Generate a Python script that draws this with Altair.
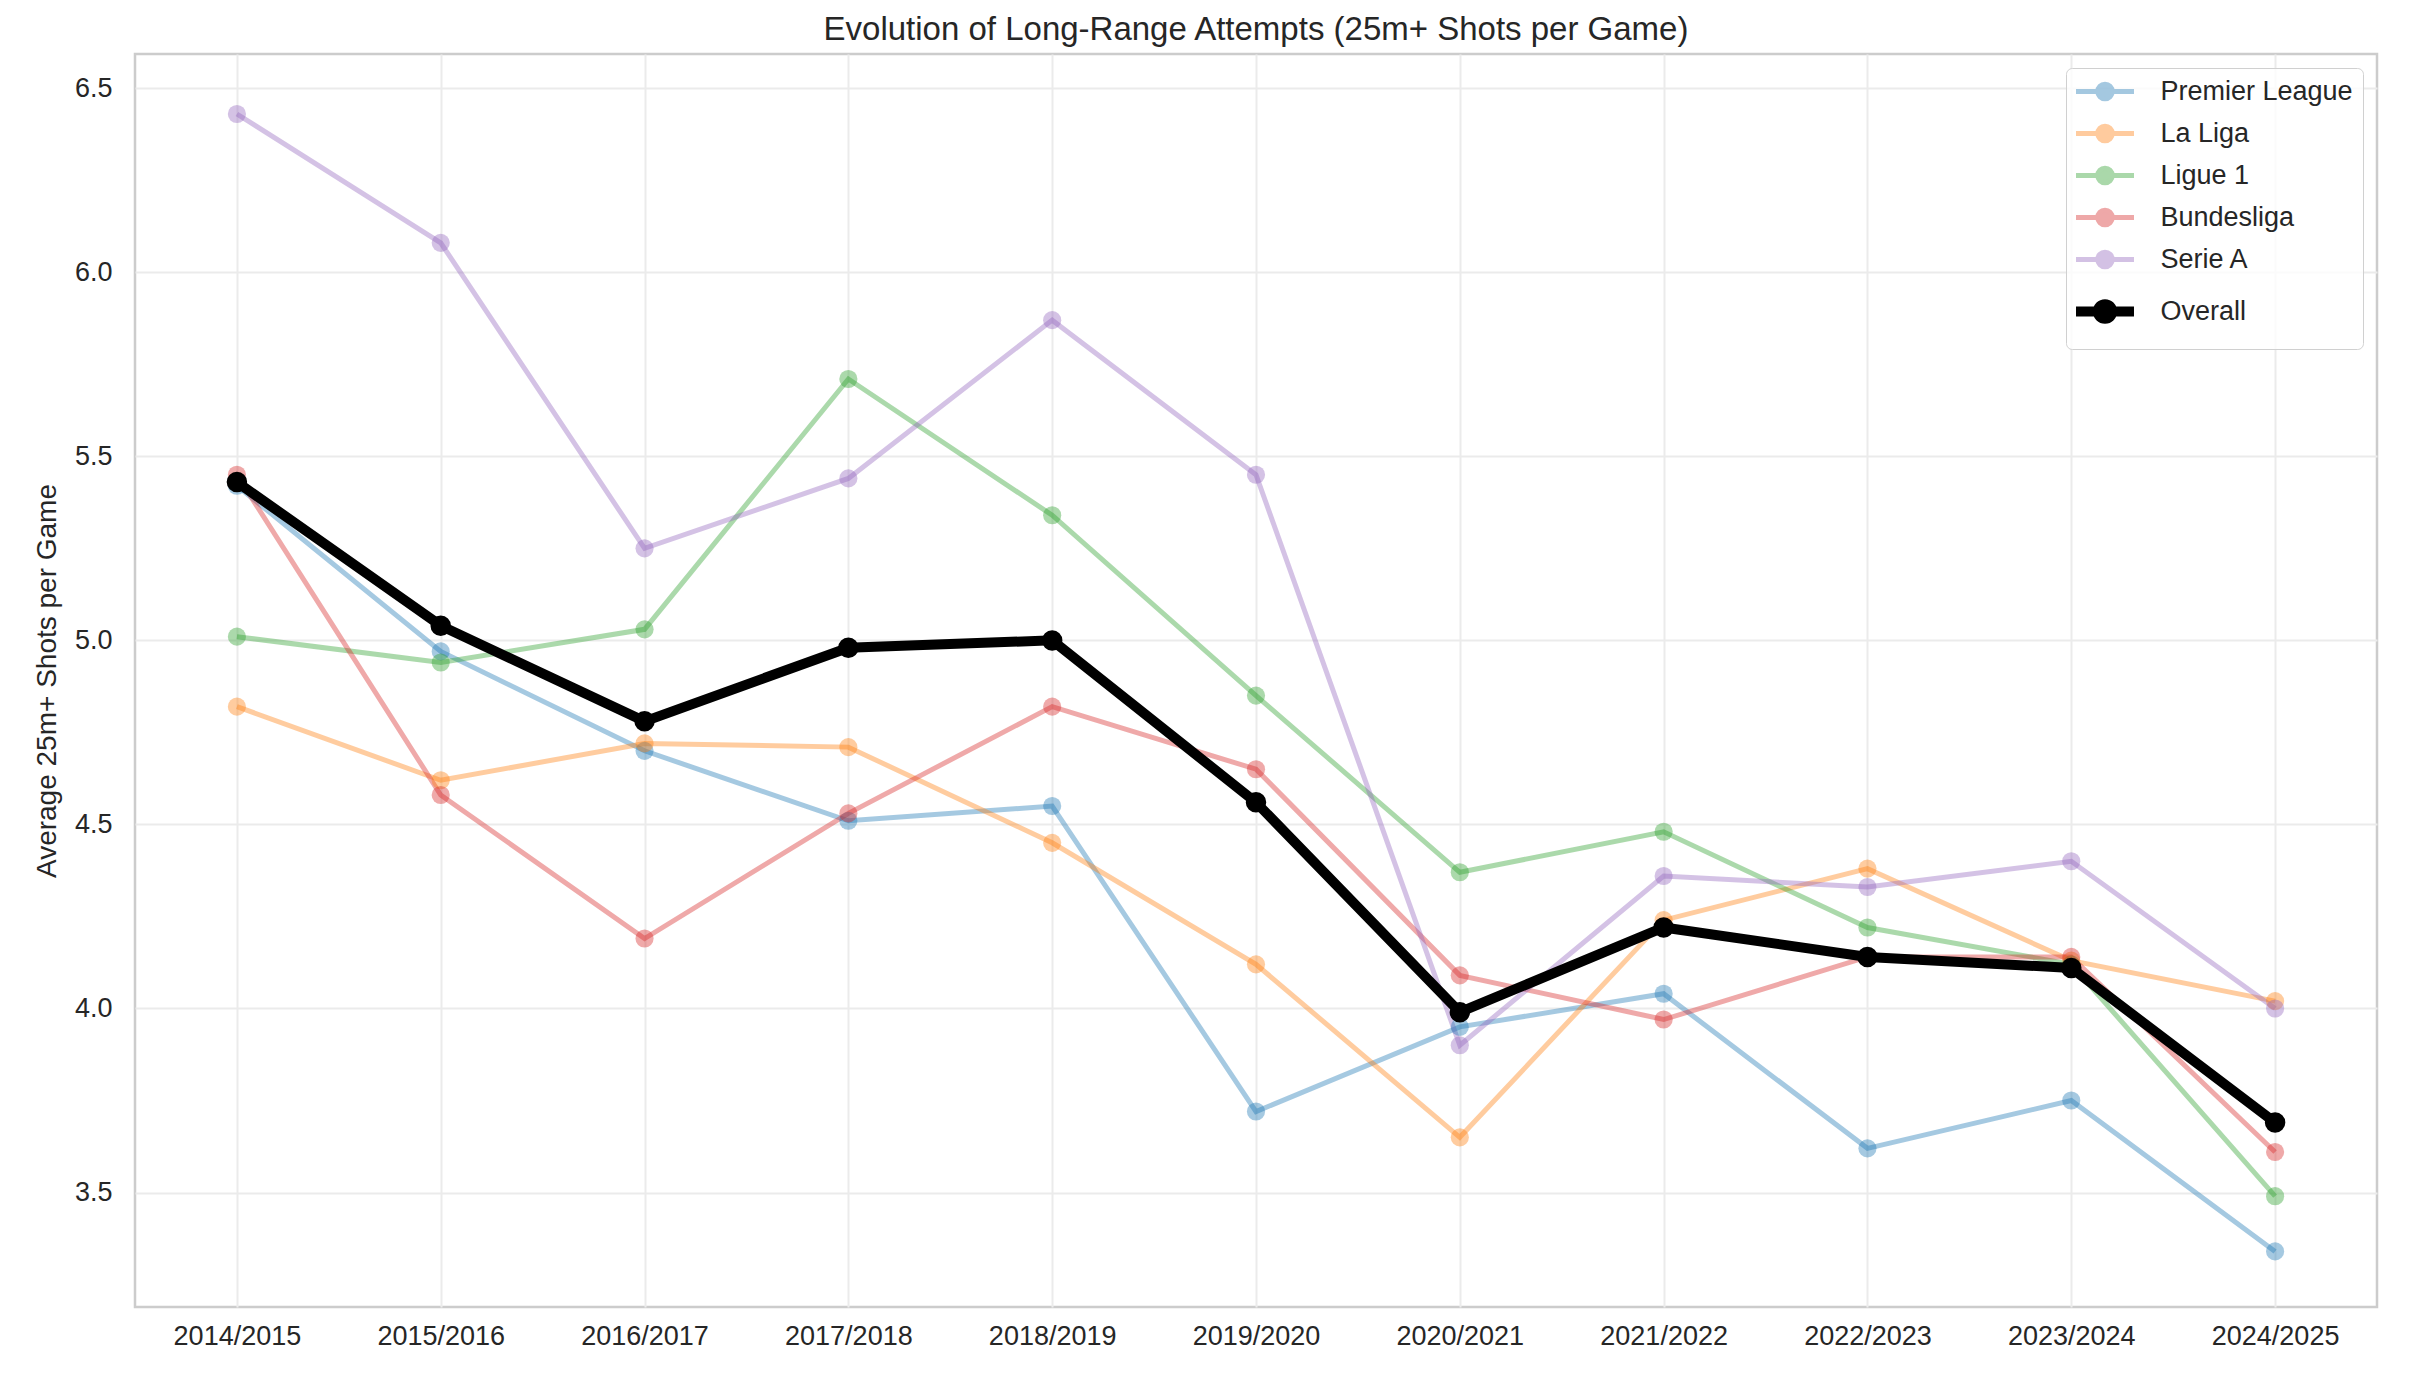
import altair as alt
import pandas as pd

seasons = ["2014/2015", "2015/2016", "2016/2017", "2017/2018", "2018/2019", "2019/2020",
           "2020/2021", "2021/2022", "2022/2023", "2023/2024", "2024/2025"]

premier_league = [5.42, 4.97, 4.70, 4.51, 4.55, 3.72, 3.95, 4.04, 3.62, 3.75, 3.34]
la_liga        = [4.82, 4.62, 4.72, 4.71, 4.45, 4.12, 3.65, 4.24, 4.38, 4.13, 4.02]
ligue_1        = [5.01, 4.94, 5.03, 5.71, 5.34, 4.85, 4.37, 4.48, 4.22, 4.12, 3.49]
bundesliga     = [5.45, 4.58, 4.19, 4.53, 4.82, 4.65, 4.09, 3.97, 4.14, 4.14, 3.61]
serie_a        = [6.43, 6.08, 5.25, 5.44, 5.87, 5.45, 3.90, 4.36, 4.33, 4.40, 4.00]
overall        = [5.43, 5.04, 4.78, 4.98, 5.00, 4.56, 3.99, 4.22, 4.14, 4.11, 3.69]

series_names = ["Premier League", "La Liga", "Ligue 1", "Bundesliga", "Serie A", "Overall"]
series_values = [premier_league, la_liga, ligue_1, bundesliga, serie_a, overall]
series_colors = ["#1f77b4", "#ff7f0e", "#2ca02c", "#d62728", "#9467bd", "#000000"]
series_widths = [5, 5, 5, 5, 5, 10]
series_alpha = [0.4, 0.4, 0.4, 0.4, 0.4, 1.0]

rows = []
for name, vals in zip(series_names, series_values):
    for s, v in zip(seasons, vals):
        rows.append({"season": s, "league": name, "value": v})
df = pd.DataFrame(rows)

FONT = "Liberation Sans"
TXT = "#262626"

# legend handle: a short line with a circle marker in its middle
legend_path = ("M-3.41,0L3.41,0M-0.85,0A0.85,0.85,0,1,1,0.85,0"
               "A0.85,0.85,0,1,1,-0.85,0Z")

legend = alt.Legend(
    title=None,
    orient="top-right",
    offset=14,
    padding=10,
    fillColor="rgba(255,255,255,0.8)",
    strokeColor="#d0d0d0",
    cornerRadius=6,
    labelFont=FONT,
    labelFontSize=27,
    labelColor=TXT,
    labelLimit=500,
    labelOffset=42,
    rowPadding=7,
    symbolType=legend_path,
    symbolSize=289,
    symbolOffset=15.5,
)

x_enc = alt.X("season:N", sort=seasons, title=None,
              scale=alt.Scale(type="point", padding=0.5),
              axis=alt.Axis(labelAngle=0, grid=True, ticks=False, tickSize=0,
                            domain=False, labelPadding=16))
y_enc = alt.Y("value:Q", title="Average 25m+ Shots per Game",
              scale=alt.Scale(domain=[3.189, 6.593], nice=False, zero=False),
              axis=alt.Axis(values=[3.5, 4.0, 4.5, 5.0, 5.5, 6.0, 6.5], format=".1f",
                            grid=True, ticks=False, tickSize=0, domain=False,
                            labelPadding=23, titlePadding=13))
color_enc = alt.Color("league:N", scale=alt.Scale(domain=series_names, range=series_colors),
                      legend=legend)
width_enc = alt.StrokeWidth("league:N",
                            scale=alt.Scale(type="ordinal", domain=series_names, range=series_widths),
                            legend=legend)
alpha_enc = alt.Opacity("league:N",
                        scale=alt.Scale(type="ordinal", domain=series_names, range=series_alpha),
                        legend=legend)

base = alt.Chart(df).encode(x=x_enc, y=y_enc, color=color_enc, opacity=alpha_enc)

leagues = base.transform_filter("datum.league !== 'Overall'")
tot = base.transform_filter("datum.league === 'Overall'")

league_lines = leagues.mark_line().encode(strokeWidth=width_enc)
league_points = leagues.mark_circle(size=330)
overall_line = tot.mark_line().encode(strokeWidth=width_enc)
overall_points = tot.mark_circle(size=420)

chart = alt.layer(league_lines, league_points, overall_line, overall_points).properties(
    width=2242,
    height=1253,
    background="white",
    title=alt.TitleParams(
        "Evolution of Long-Range Attempts (25m+ Shots per Game)",
        font=FONT, fontSize=33, fontWeight="normal", color=TXT,
        anchor="middle", baseline="bottom", offset=-26, frame="group",
    ),
    autosize=alt.AutoSizeParams(type="none"),
    padding={"left": 127, "top": 46, "right": 30, "bottom": 70},
).configure_view(
    stroke="#cccccc", strokeWidth=2.5, fill="white"
).configure_axis(
    labelFont=FONT, labelFontSize=27, labelColor=TXT,
    titleFont=FONT, titleFontSize=28, titleColor=TXT, titleFontWeight="normal",
    gridColor="#ebebeb", gridWidth=2,
)

chart.save("out.html", embed_options={"renderer": "svg", "actions": False})
